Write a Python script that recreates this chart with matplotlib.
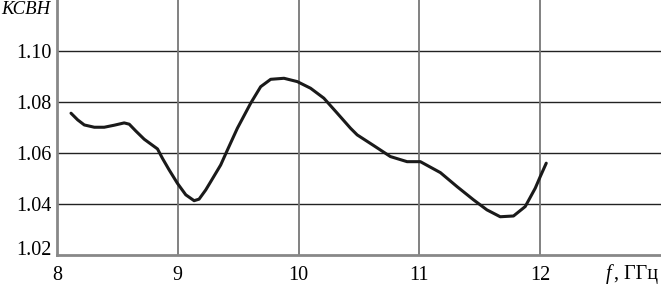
import matplotlib.pyplot as plt
from matplotlib.transforms import ScaledTranslation

# значения КСВН
freq = [8.116, 8.171, 8.226, 8.309, 8.391, 8.474, 8.556, 8.598, 8.653, 8.722,
        8.777, 8.832, 8.873, 8.928, 8.997, 9.066, 9.135, 9.176, 9.231, 9.273,
        9.355, 9.411, 9.493, 9.603, 9.686, 9.769, 9.879, 9.989, 10.099, 10.209,
        10.320, 10.430, 10.485, 10.622, 10.760, 10.898, 11.008, 11.174, 11.312,
        11.449, 11.559, 11.669, 11.779, 11.876, 11.959, 12.0, 12.05]
vswr = [1.0756, 1.0730, 1.0710, 1.0701, 1.0701, 1.0709, 1.0718, 1.0713, 1.0686,
        1.0654, 1.0635, 1.0616, 1.0579, 1.0534, 1.0481, 1.0436, 1.0413, 1.0419,
        1.0455, 1.0488, 1.0553, 1.0612, 1.0697, 1.0795, 1.0860, 1.0889, 1.0893,
        1.0880, 1.0854, 1.0815, 1.0756, 1.0697, 1.0671, 1.0629, 1.0586, 1.0566,
        1.0566, 1.0523, 1.0468, 1.0416, 1.0377, 1.0350, 1.0353, 1.0390, 1.0462,
        1.0507, 1.0560]

xticks = [8, 9, 10, 11, 12]
yticks = [1.02, 1.04, 1.06, 1.08, 1.10]

plt.rcParams['font.family'] = ['Liberation Serif', 'DejaVu Serif']

fig = plt.figure(figsize=(6.61, 2.85), dpi=100)
ax = fig.add_axes([57/661, 30/285, 1 - 57/661, 1 - 30/285])

ax.plot(freq, vswr, color='#1a1a1a', lw=2.2, solid_capstyle='round',
        solid_joinstyle='round')

ax.set_xlim(8, 13)
ax.set_ylim(1.02, 1.12)
ax.set_xticks(xticks)
ax.set_yticks(yticks)
ax.set_yticklabels(['%.2f' % v for v in yticks])
ax.tick_params(length=0, labelsize=14.5)
ax.tick_params(axis='x', pad=8)
ax.tick_params(axis='y', pad=4)

# подпись 1.02 чуть выше, как в оригинале
lab = ax.get_yticklabels()[0]
lab.set_transform(lab.get_transform() + ScaledTranslation(0, 7/100, fig.dpi_scale_trans))

for v in yticks[1:]:
    ax.axhline(v, color='#222222', lw=1.0, zorder=0)
for v in xticks[1:]:
    ax.axvline(v, color='#777777', lw=1.3, zorder=0)

for s in ['top', 'right']:
    ax.spines[s].set_visible(False)
for s in ['left', 'bottom']:
    ax.spines[s].set_color('#888888')
    ax.spines[s].set_linewidth(2)

fig.text(1/661, 1 - 9/285, 'КСВН', fontsize=13.5, style='italic', va='center', ha='left')
fig.text(606/661, 1 - 274/285, 'f', fontsize=14.5, style='italic', va='center', ha='left')
fig.text(614/661, 1 - 274/285, ', ГГц', fontsize=14.5, va='center', ha='left')

plt.savefig('out.png', dpi=100)
